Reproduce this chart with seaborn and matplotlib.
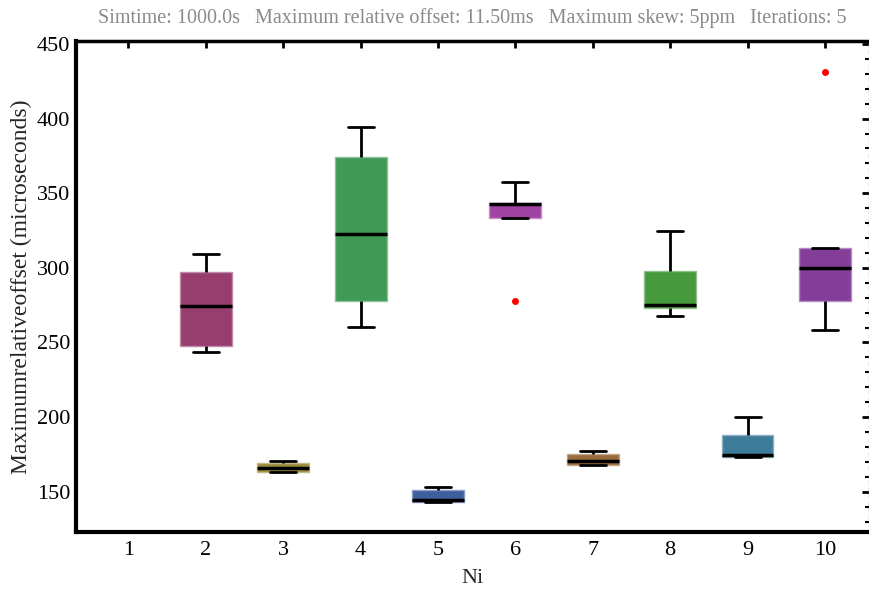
import pandas as pd
import matplotlib.pyplot as plt
import seaborn as sns
from matplotlib.ticker import MultipleLocator
from matplotlib.colors import to_rgb

# Five iterations per Ni value; Ni = 1 has no data
ni_values = [2, 3, 4, 5, 6, 7, 8, 9, 10]
offsets = [
    [243.3, 247.3, 274.6, 297.1, 309.6],
    [162.9, 163.5, 165.6, 169.5, 170.3],
    [260.3, 278.1, 322.6, 374.3, 394.4],
    [142.9, 143.3, 144.6, 150.9, 152.9],
    [277.9, 333.5, 343.0, 343.5, 357.6],
    [167.9, 168.2, 170.6, 175.2, 177.5],
    [267.4, 273.4, 275.4, 298.2, 324.8],
    [173.0, 173.2, 174.6, 188.0, 200.0],
    [258.5, 277.5, 300.0, 313.5, 431.0],
]
box_colors = ["#983e6e", "#9a8a3a", "#3f9a56", "#3f5e9e", "#a043a2",
              "#9a6b3d", "#46993d", "#3e7a9a", "#843e99"]
tick_labels = [str(i) for i in range(1, 11)]

rows = [(n, v) for n, vals in zip(ni_values, offsets) for v in vals]
df = pd.DataFrame(rows, columns=["Ni", "Offset"])

sns.set_theme(style="white")
plt.rcParams["font.family"] = ["Liberation Serif", "DejaVu Serif"]

fig = plt.figure(figsize=(8.7, 5.97), dpi=100)
ax = fig.add_axes([0.0869, 0.1094, 0.9120, 0.8219])

sns.boxplot(data=df, x="Ni", y="Offset", hue="Ni", native_scale=True,
            palette=dict(zip(ni_values, box_colors)), legend=False,
            width=0.67, whis=2.0, saturation=1, linecolor="black", linewidth=2,
            medianprops=dict(linewidth=2.5),
            flierprops=dict(marker="o", markerfacecolor="red", markeredgecolor="red",
                            markersize=4),
            ax=ax)

# soft edge around each box, like the original
for patch in ax.patches:
    r, g, b = to_rgb(patch.get_facecolor())
    patch.set_edgecolor((r + (1 - r) * 0.4, g + (1 - g) * 0.4, b + (1 - b) * 0.4))
    patch.set_linewidth(1)

ax.set_xlim(0.317, 10.57)
ax.set_ylim(123.2, 452)
ax.set_xticks(range(1, 11))
ax.set_xticklabels(tick_labels)
ax.yaxis.set_major_locator(MultipleLocator(50))
ax.yaxis.set_minor_locator(MultipleLocator(10))

for side in ["left", "bottom"]:
    ax.spines[side].set_linewidth(3)
    ax.spines[side].set_color("black")
ax.spines["top"].set_linewidth(2.5)
ax.spines["top"].set_color("black")
ax.spines["right"].set_linewidth(1)
ax.spines["right"].set_color("#999999")
ax.spines["right"].set_linestyle((0, (2, 3)))

ax.tick_params(which="both", direction="in", top=True, right=True,
               labelsize=16, colors="black")
ax.tick_params(axis="x", pad=7)
ax.tick_params(axis="y", pad=4)
ax.tick_params(which="major", length=5, width=2)
ax.tick_params(which="minor", length=3, width=1.5)
ax.tick_params(axis="y", which="both", right=True)

ax.set_xlabel("Ni", fontsize=16, labelpad=6)
ax.set_ylabel("Maximumrelativeoffset (microseconds)", fontsize=17, labelpad=3)
ax.set_title("Simtime: 1000.0s   Maximum relative offset: 11.50ms   "
             "Maximum skew: 5ppm   Iterations: 5",
             fontsize=14.5, color="#8a8a8a", pad=13)

fig.savefig("out.png", dpi=100)
